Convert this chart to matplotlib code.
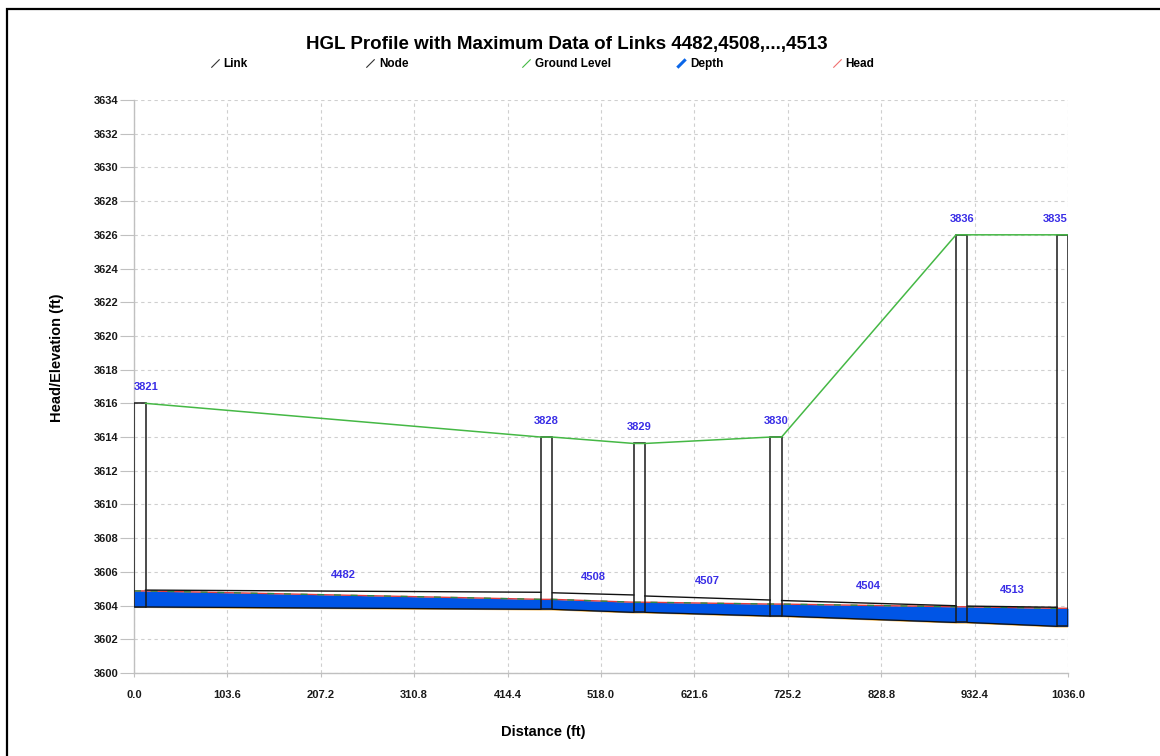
import numpy as np
import matplotlib
matplotlib.use('Agg')
import matplotlib.pyplot as plt
from matplotlib.lines import Line2D
from matplotlib.patches import Rectangle

plt.rcParams['font.family'] = ['Liberation Sans', 'DejaVu Sans']

# node (manhole) data
node_ids = ['3821', '3828', '3829', '3830', '3836', '3835']
node_start = [0.0, 451.3, 554.3, 705.8, 911.8, 1024.0]
node_end = [12.8, 464.1, 566.6, 718.3, 924.3, 1036.0]
node_invert = [3603.92, 3603.78, 3603.60, 3603.38, 3603.00, 3602.77]
node_ground = [3616.0, 3614.0, 3613.62, 3614.0, 3626.0, 3626.0]
node_head = [3604.87, 3604.37, 3604.20, 3604.09, 3603.93, 3603.84]

# link (pipe) data
link_ids = ['4482', '4508', '4507', '4504', '4513']
link_crown_up = [3604.92, 3604.76, 3604.57, 3604.30, 3603.97]
link_crown_dn = [3604.79, 3604.63, 3604.33, 3603.99, 3603.90]

x_ticks = np.round(np.arange(0, 1036.01, 103.6), 1)
y_ticks = np.arange(3600, 3635, 2)

fig = plt.figure(figsize=(11.6, 7.56), dpi=100)
ax = fig.add_axes([134 / 1160, 1 - 673 / 756, 934 / 1160, 573 / 756])

# depth fill along the whole profile
x_prof = np.ravel(np.column_stack([node_start, node_end]))
inv_prof = np.repeat(node_invert, 2)
head_prof = np.repeat(node_head, 2)
ground_prof = np.repeat(node_ground, 2)

ax.fill_between(x_prof, inv_prof, head_prof, color='#0055e6', lw=0, zorder=3)
ax.plot(x_prof, inv_prof, color='#f0a830', lw=1.6, zorder=2.5)
ax.plot(x_prof, head_prof, color='#e03c3c', lw=1.0, zorder=4)
ax.plot(x_prof, head_prof, color='#2e8b45', lw=1.0, zorder=4.1, dashes=(5, 7))

# pipes
for i, lid in enumerate(link_ids):
    xs = [node_end[i], node_start[i + 1]]
    ax.plot(xs, [link_crown_up[i], link_crown_dn[i]], color='#111111', lw=1.0, zorder=5)
    ax.plot(xs, [node_invert[i], node_invert[i + 1]], color='#111111', lw=0.9, zorder=5)
    xm = (xs[0] + xs[1]) / 2
    ym = (link_crown_up[i] + link_crown_dn[i]) / 2
    ax.annotate(lid, (xm, ym), xytext=(0, 12), textcoords='offset points',
                ha='center', va='center', color='#3a2ee6', fontsize=8,
                fontweight='bold', zorder=7)

# manholes
for i, nid in enumerate(node_ids):
    ax.add_patch(Rectangle((node_start[i], node_invert[i]),
                           node_end[i] - node_start[i],
                           node_ground[i] - node_invert[i],
                           facecolor='none', edgecolor='#1a1a1a', lw=1.1, zorder=5))
    if i == 0:
        ha, xl = 'left', node_start[i]
    elif i == len(node_ids) - 1:
        ha, xl = 'right', node_end[i]
    else:
        ha, xl = 'center', (node_start[i] + node_end[i]) / 2
    ax.annotate(nid, (xl, node_ground[i]), xytext=(0, 11.5), textcoords='offset points',
                ha=ha, va='center', color='#3a2ee6', fontsize=8,
                fontweight='bold', zorder=7)

# ground level
ax.plot(x_prof[1:], ground_prof[1:], color='#45b845', lw=1.1, zorder=6)

ax.set_xlim(0, 1036)
ax.set_ylim(3600, 3634)
ax.set_xticks(x_ticks)
ax.set_xticklabels(['%.1f' % v for v in x_ticks])
ax.set_yticks(y_ticks)
ax.grid(True, color='#cfcfcf', lw=0.8, linestyle=(0, (3, 3)), zorder=0)
ax.set_axisbelow(True)
for s in ['top', 'right']:
    ax.spines[s].set_visible(False)
for s in ['left', 'bottom']:
    ax.spines[s].set_color('#c0c0c0')
    ax.spines[s].set_linewidth(1.0)
ax.tick_params(axis='y', length=10, pad=1, color='#c0c0c0', labelsize=8, labelcolor='#1a1a1a')
ax.tick_params(axis='x', length=3, pad=9, color='#c0c0c0', labelsize=8, labelcolor='#1a1a1a')
for lab in ax.get_xticklabels() + ax.get_yticklabels():
    lab.set_fontweight('bold')

ax.set_ylabel('Head/Elevation (ft)', fontsize=10.5, fontweight='bold')
ax.yaxis.set_label_coords(-0.075, 0.55)
ax.set_xlabel('Distance (ft)', fontsize=10.5, fontweight='bold')
ax.xaxis.set_label_coords(0.438, -0.091)

fig.text(567 / 1160, 1 - 44 / 756, 'HGL Profile with Maximum Data of Links 4482,4508,...,4513',
         ha='center', va='center', fontsize=13.5, fontweight='bold')

# legend, one entry per slot
legend_labels = ['Link', 'Node', 'Ground Level', 'Depth', 'Head']
legend_colors = ['#333333', '#333333', '#45b845', '#0a66e8', '#f07070']
legend_widths = [0.8, 0.8, 0.8, 2.2, 0.8]
for k in range(5):
    h = Line2D([], [], linestyle='none', marker=[(-1, -1), (1, 1)], markersize=6,
               markeredgewidth=legend_widths[k], color=legend_colors[k])
    fig.legend(handles=[h], labels=[legend_labels[k]], loc='center left',
               bbox_to_anchor=((210 + 155.5 * k) / 1160, 1 - 64 / 756),
               frameon=False, handlelength=0.8, handletextpad=0.35,
               borderpad=0, borderaxespad=0, numpoints=1,
               prop={'size': 8.5, 'weight': 'bold'})

# outer frame
fig.add_artist(Rectangle((7 / 1160, -0.1), 1.2, 1.1 - 9 / 756, transform=fig.transFigure,
                         facecolor='none', edgecolor='black', lw=1.6))

fig.savefig('out.png', dpi=100)
